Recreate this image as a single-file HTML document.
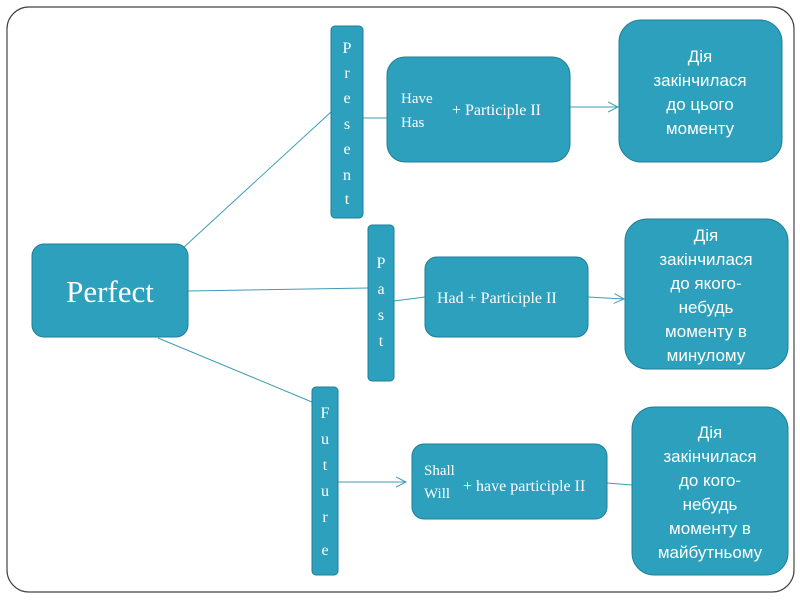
<!DOCTYPE html>
<html><head><meta charset="utf-8"><style>
html,body{margin:0;padding:0;background:#fff;}
svg{display:block;}
text{font-family:"Liberation Serif",serif;fill:#fff;}
.c{font-family:"Liberation Sans","DejaVu Sans",sans-serif;}
</style></head><body>
<svg width="800" height="600" viewBox="0 0 800 600">
<defs><marker id="a" markerWidth="12" markerHeight="12" refX="10" refY="6" orient="auto" markerUnits="userSpaceOnUse"><path d="M0,1 L10,6 L0,11" fill="none" stroke="#3d9db5" stroke-width="1"/></marker></defs>
<rect x="7" y="7" width="787" height="585" rx="22" fill="#fff" stroke="#444" stroke-width="1.2"/>
<g stroke="#3d9db5" stroke-width="1" fill="none">
<line x1="183" y1="248" x2="331" y2="112"/>
<line x1="363" y1="118" x2="387" y2="118"/>
<line x1="570" y1="107" x2="618" y2="107" marker-end="url(#a)"/>
<line x1="188" y1="291" x2="368" y2="288"/>
<line x1="394" y1="301" x2="425" y2="297"/>
<line x1="588" y1="297" x2="624" y2="299" marker-end="url(#a)"/>
<line x1="158" y1="338" x2="312" y2="402"/>
<line x1="338" y1="482" x2="406" y2="482" marker-end="url(#a)"/>
<line x1="607" y1="483" x2="632" y2="485"/>
</g>
<g fill="#2ca0bc" stroke="#1f7f97" stroke-width="1">
<rect x="32" y="244" width="156" height="93" rx="12"/>
<rect x="331" y="26" width="32" height="192" rx="4"/>
<rect x="387" y="57" width="183" height="105" rx="18"/>
<rect x="619" y="20" width="163" height="142" rx="22"/>
<rect x="368" y="225" width="26" height="156" rx="4"/>
<rect x="425" y="257" width="163" height="80" rx="12"/>
<rect x="625" y="219" width="163" height="150" rx="22"/>
<rect x="312" y="387" width="26" height="188" rx="4"/>
<rect x="412" y="444" width="195" height="75" rx="12"/>
<rect x="632" y="407" width="156" height="168" rx="22"/>
</g>
<text x="110" y="302" font-size="31" text-anchor="middle">Perfect</text>
<g font-size="16" text-anchor="middle">
<text x="347" y="53">P</text><text x="347" y="78">r</text><text x="347" y="103">e</text><text x="347" y="129">s</text><text x="347" y="154">e</text><text x="347" y="180">n</text><text x="347" y="204">t</text>
<text x="381" y="268">P</text><text x="381" y="294">a</text><text x="381" y="320">s</text><text x="381" y="346">t</text>
<text x="325" y="418">F</text><text x="325" y="444">u</text><text x="325" y="470">t</text><text x="325" y="496">u</text><text x="325" y="522">r</text><text x="325" y="555">e</text>
</g>
<g font-size="15">
<text x="401" y="103">Have</text><text x="401" y="127">Has</text>
<text x="452" y="115" font-size="16">+ Participle II</text>
<text x="437" y="303" font-size="16">Had + Participle II</text>
<text x="424" y="475">Shall</text><text x="424" y="498">Will</text>
<text x="463" y="491" font-size="16">+ have participle II</text>
</g>
<g class="c" font-size="17" text-anchor="middle">
<text class="c" x="700" y="62">Дія</text><text class="c" x="700" y="86">закінчилася</text><text class="c" x="700" y="110">до цього</text><text class="c" x="700" y="134">моменту</text>
<text class="c" x="706" y="241">Дія</text><text class="c" x="706" y="265">закінчилася</text><text class="c" x="706" y="289">до якого-</text><text class="c" x="706" y="313">небудь</text><text class="c" x="706" y="337">моменту в</text><text class="c" x="706" y="361">минулому</text>
<text class="c" x="710" y="438">Дія</text><text class="c" x="710" y="462">закінчилася</text><text class="c" x="710" y="486">до кого-</text><text class="c" x="710" y="510">небудь</text><text class="c" x="710" y="534">моменту в</text><text class="c" x="710" y="558">майбутньому</text>
</g>
</svg>
</body></html>
